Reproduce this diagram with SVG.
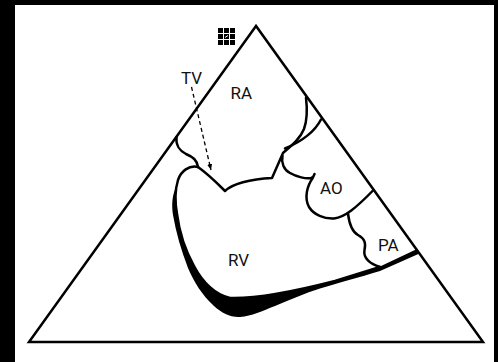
<svg xmlns="http://www.w3.org/2000/svg" width="498" height="362" viewBox="0 0 498 362">
<style>
.ln{fill:none;stroke:#000;stroke-width:2.5;stroke-linejoin:round;stroke-linecap:round}
.lbl{font-family:Roboto,"Liberation Sans",sans-serif;font-size:17px;fill:#111}
.dash{fill:none;stroke:#000;stroke-width:1.3;stroke-dasharray:4 3}
</style>
<defs>
<marker id="ah" viewBox="0 0 6 5" refX="6" refY="2.5" markerWidth="6" markerHeight="5" markerUnits="userSpaceOnUse" orient="auto">
<path d="M0,0 L6,2.5 L0,5 Z" fill="#000"/>
</marker>
</defs>
<g id="frame">
<rect x="0" y="0" width="498" height="362" fill="#000"/>
<rect x="15" y="5" width="479" height="357" fill="#fff"/>
</g>
<g id="icon" fill="#000">
<rect x="218" y="28" width="5" height="5"/><rect x="224" y="28" width="5" height="5"/><rect x="230" y="28" width="5" height="5"/>
<rect x="218" y="34" width="5" height="5"/><rect x="224" y="34" width="5" height="5"/><rect x="230" y="34" width="5" height="5"/>
<rect x="218" y="40" width="5" height="5"/><rect x="224" y="40" width="5" height="5"/><rect x="230" y="40" width="5" height="5"/>
<path d="M225,37.5 L228,35.5" stroke="#fff" stroke-width="1"/>
</g>
<g id="triangle">
<path d="M256,26 L29,342 L483,342 Z" fill="none" stroke="#000" stroke-width="2.5" stroke-linejoin="miter"/>
</g>
<g id="RA">
<path class="ln" d="M176.5,137 C175.5,145 180,151 186,154 C193,157 197,160 198,167"/>
<path class="ln" d="M198,167 C205,172 215,181 223,189 L225,191 C232,184 250,179 272,178 L283,153 C291,146 300,139 304,129 C308,118 307,106 306,97.5"/>
<path class="ln" d="M285,148.5 C298,143 314,133 321,119.5"/>
<text class="lbl" x="230.5" y="98.5">RA</text>
</g>
<g id="RV">
<path fill="#000" d="M176.5,186 C175,195 175,205 177,214 C179,230 185,250 194,266 C202,281 214,294 230,298 C260,299 300,290 335,281 L380,266.5 L417,249 L419.5,253.5 L380,271 C360,277 335,284 320,288.5 C305,293 290,300 275,306 C262,311 252,316 240,317 C230,317.5 222,313 214,306 C202,295 194,282 188,268 C181,250 176,232 173,215 C171.5,205 172,195 176.5,186 Z"/>
<path class="ln" d="M198,167 C189,165 181,171 178,180 C175,190 175,203 177,214 C179,230 185,250 194,266 C202,281 214,294 230,298 C260,299 300,290 335,281 L380,267"/>
<text class="lbl" x="228" y="265.5">RV</text>
</g>
<g id="AO">
<path class="ln" d="M282.5,156 C281,163 284,170 290,173 C297,177 306,179 311,178 C313,177.5 314,176 314.5,174"/>
<path class="ln" d="M313,177.5 C307,186 304,198 309,207 C314,215 324,219 334,218.5 C345,217 356,208 373.5,190"/>
<text class="lbl" x="320" y="194">AO</text>
</g>
<g id="PA">
<path class="ln" d="M348,213.5 C349,222 351,231 358,235 C365,239 366,243 364.5,250 C363,258 370,264 380,267"/>
<text class="lbl" x="378" y="250.7">PA</text>
</g>
<g id="TV">
<text class="lbl" x="181" y="83.5">TV</text>
</g>
<g id="connectors">
<path class="dash" d="M191.5,87 L211,170" marker-end="url(#ah)"/>
</g>
</svg>
